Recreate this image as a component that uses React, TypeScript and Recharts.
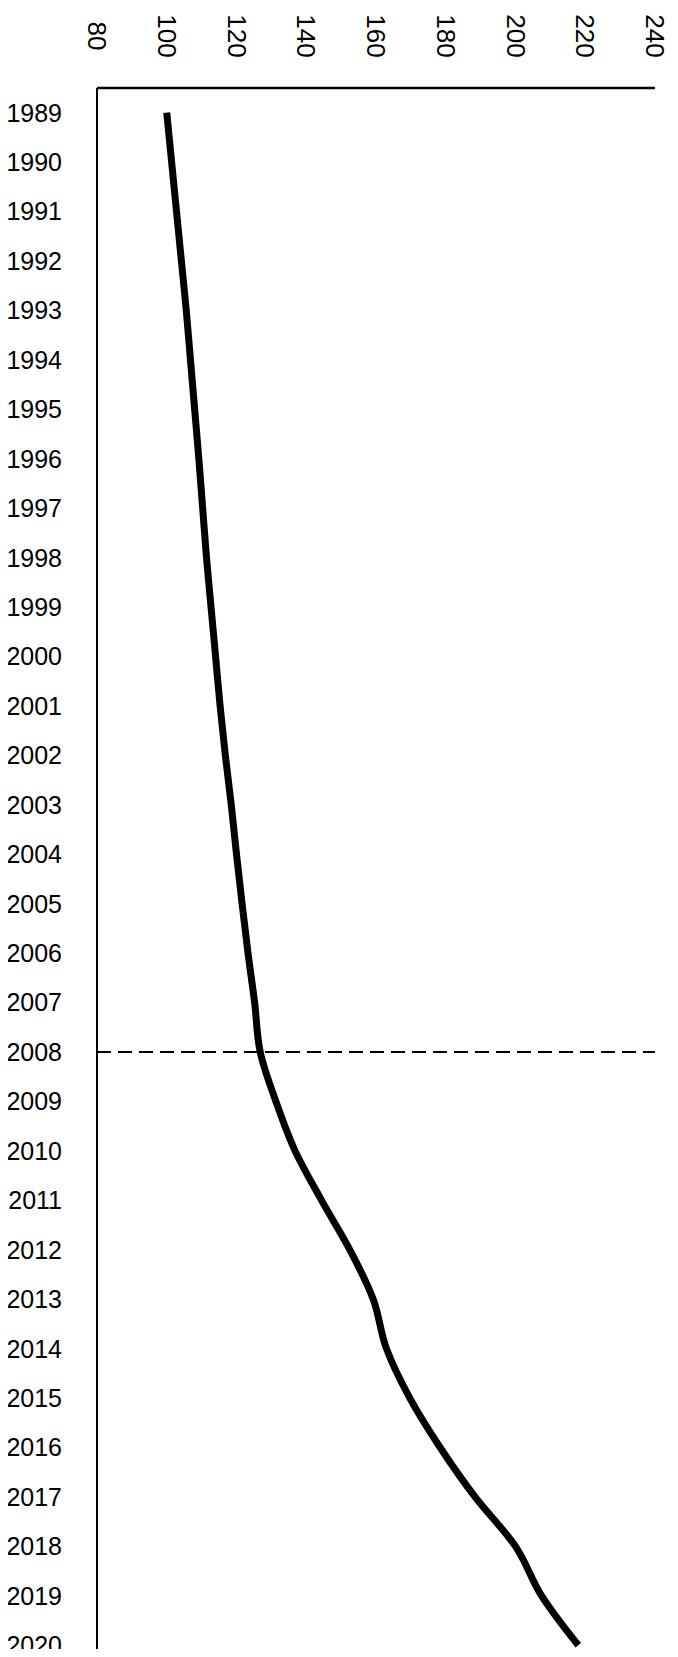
import { Line, LineChart, ReferenceLine, XAxis, YAxis } from "recharts";

const YEARS = [
  "1989", "1990", "1991", "1992", "1993", "1994", "1995", "1996",
  "1997", "1998", "1999", "2000", "2001", "2002", "2003", "2004",
  "2005", "2006", "2007", "2008", "2009", "2010", "2011", "2012",
  "2013", "2014", "2015", "2016", "2017", "2018", "2019", "2020",
];

const INDEX_VALUES = [
  100, 101.4, 102.8, 104.2, 105.6, 106.8, 108, 109.2,
  110.3, 111.4, 112.7, 114, 115.3, 116.8, 118.5, 120,
  121.6, 123.3, 125.2, 126.8, 131.3, 136.8, 144.4, 152.5,
  159.2, 163, 169.7, 178.4, 188.4, 200, 207.5, 218,
];

const VALUE_TICKS = [80, 100, 120, 140, 160, 180, 200, 220, 240];

const MARKER_YEAR = "2008";

const FONT = "'Liberation Sans', Arial, sans-serif";

const data = YEARS.map((year, i) => ({ year, value: INDEX_VALUES[i] }));

// value labels sit above the plot, turned a quarter clockwise
function TopTick({ x, payload }: { x?: number; payload?: { value: number } }) {
  const cy = 36;
  return (
    <text
      x={x}
      y={cy}
      transform={`rotate(90, ${x}, ${cy})`}
      textAnchor="middle"
      dominantBaseline="central"
      fontSize={26}
      fontFamily={FONT}
      fill="#000"
    >
      {payload?.value}
    </text>
  );
}

export default function App() {
  // pulled over the body margin so the chart fills the page edge to edge
  return (
    <div style={{ width: 678, height: 1657, overflow: "hidden", margin: -8 }}>
      <LineChart
        width={678}
        height={1670}
        data={data}
        layout="vertical"
        margin={{ top: 0, right: 23, bottom: 0, left: 0 }}
      >
        <XAxis
          type="number"
          orientation="top"
          domain={[80, 240]}
          ticks={VALUE_TICKS}
          interval={0}
          height={88}
          tickLine={false}
          axisLine={{ stroke: "#000", strokeWidth: 2.5 }}
          tick={<TopTick />}
        />
        <YAxis
          type="category"
          dataKey="year"
          scale="band"
          width={97}
          interval={0}
          tickLine={false}
          tickSize={33}
          tickMargin={2}
          axisLine={{ stroke: "#000", strokeWidth: 2 }}
          tick={{ fontSize: 25, fontFamily: FONT, fill: "#000" }}
        />
        <ReferenceLine
          y={MARKER_YEAR}
          stroke="#000"
          strokeWidth={2}
          strokeDasharray="14 7"
        />
        <Line
          type="monotone"
          dataKey="value"
          stroke="#000"
          strokeWidth={7}
          dot={false}
          activeDot={false}
          isAnimationActive={false}
        />
      </LineChart>
    </div>
  );
}
